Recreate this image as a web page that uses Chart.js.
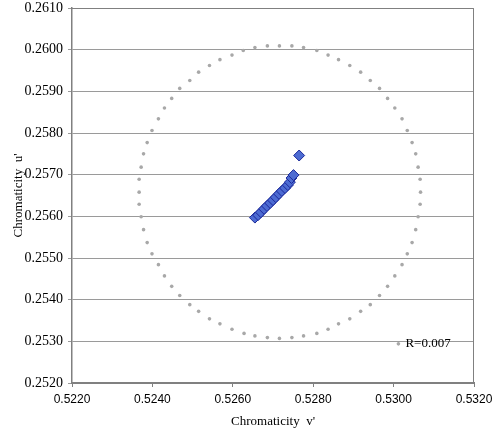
<!DOCTYPE html>
<html>
<head>
<meta charset="utf-8">
<script src="https://cdn.jsdelivr.net/npm/chart.js@4"></script>
<style>
  html, body { margin: 0; padding: 0; background: #fff; }
  #grafico { display: block; }
</style>
</head>
<body>
<canvas id="grafico" width="502" height="436"></canvas>
<script>
// Círculo de referencia (R=0.007), leído punto a punto
var circuloV = [0.52716, 0.52747, 0.52776, 0.52809, 0.52837, 0.52863, 0.52891, 0.52918, 0.52942, 0.52965,
                0.52985, 0.53003, 0.53021, 0.53034, 0.53046, 0.53055, 0.53061, 0.53066, 0.53067, 0.53066,
                0.53061, 0.53055, 0.53046, 0.53034, 0.53021, 0.53003, 0.52985, 0.52965, 0.52942, 0.52918,
                0.52891, 0.52863, 0.52837, 0.52809, 0.52776, 0.52747, 0.52716, 0.52686, 0.52655, 0.52628,
                0.52598, 0.52568, 0.52542, 0.52515, 0.52493, 0.52468, 0.52448, 0.52430, 0.52415, 0.52399,
                0.52387, 0.52378, 0.52372, 0.52367, 0.52367, 0.52367, 0.52372, 0.52378, 0.52387, 0.52399,
                0.52415, 0.52430, 0.52448, 0.52468, 0.52493, 0.52515, 0.52542, 0.52568, 0.52598, 0.52626,
                0.52655, 0.52686];
var circuloU = [0.26009, 0.26009, 0.26005, 0.25998, 0.25987, 0.25976, 0.25962, 0.25946, 0.25926, 0.25907,
                0.25883, 0.25860, 0.25834, 0.25806, 0.25777, 0.25750, 0.25718, 0.25689, 0.25658, 0.25629,
                0.25599, 0.25568, 0.25537, 0.25510, 0.25484, 0.25457, 0.25432, 0.25410, 0.25388, 0.25372,
                0.25354, 0.25342, 0.25329, 0.25319, 0.25313, 0.25309, 0.25307, 0.25309, 0.25313, 0.25319,
                0.25329, 0.25342, 0.25354, 0.25372, 0.25388, 0.25410, 0.25432, 0.25457, 0.25484, 0.25510,
                0.25537, 0.25568, 0.25599, 0.25629, 0.25658, 0.25689, 0.25718, 0.25750, 0.25777, 0.25806,
                0.25834, 0.25860, 0.25883, 0.25907, 0.25926, 0.25946, 0.25962, 0.25976, 0.25987, 0.25998,
                0.26005, 0.26009];

// Mediciones (rombos azules)
var medidasV = [0.52655, 0.52663, 0.52670, 0.52678, 0.52685, 0.52693, 0.52700, 0.52707, 0.52715,
                0.52722, 0.52730, 0.52737, 0.52742, 0.52746, 0.52751, 0.52765];
var medidasU = [0.25597, 0.25603, 0.25610, 0.25618, 0.25625, 0.25632, 0.25639, 0.25646, 0.25654,
                0.25661, 0.25668, 0.25675, 0.25682, 0.25692, 0.25699, 0.25746];

// Punto con la etiqueta del radio
var etiquetaV = [0.53012];
var etiquetaU = [0.25294];
var etiquetaTexto = 'R=0.007';

var ticksX = [0.5220, 0.5240, 0.5260, 0.5280, 0.5300, 0.5320];
var ticksY = [0.2520, 0.2530, 0.2540, 0.2550, 0.2560, 0.2570, 0.2580, 0.2590, 0.2600, 0.2610];

function puntos(xs, ys) {
    return xs.map(function (x, i) { return { x: x, y: ys[i] }; });
}

var marco = {
    id: 'marco',
    beforeDatasetsDraw: function (chart) {
        var a = chart.chartArea, ctx = chart.ctx;
        ctx.save();
        ctx.strokeStyle = '#808080';
        ctx.lineWidth = 1;
        ctx.beginPath();
        ctx.moveTo(a.left, a.top + 0.5);
        ctx.lineTo(a.right - 0.5, a.top + 0.5);
        ctx.lineTo(a.right - 0.5, a.bottom);
        ctx.stroke();
        ctx.restore();
    },
    afterDatasetsDraw: function (chart) {
        var meta = chart.getDatasetMeta(2);
        var ctx = chart.ctx;
        ctx.save();
        ctx.fillStyle = '#000';
        ctx.font = '13px "Liberation Serif"';
        ctx.textBaseline = 'middle';
        meta.data.forEach(function (p) {
            ctx.fillText(etiquetaTexto, p.x + 7, p.y);
        });
        ctx.restore();
    }
};

new Chart(document.getElementById('grafico').getContext('2d'), {
    type: 'scatter',
    data: {
        datasets: [{
            data: puntos(medidasV, medidasU),
            pointStyle: 'rectRot',
            pointRadius: 5.5,
            backgroundColor: '#4d6bd2',
            borderColor: '#1c2a9a',
            borderWidth: 1
        }, {
            data: puntos(circuloV, circuloU),
            pointStyle: 'circle',
            pointRadius: 1.8,
            backgroundColor: '#a8a8a8',
            borderWidth: 0
        }, {
            data: puntos(etiquetaV, etiquetaU),
            pointStyle: 'circle',
            pointRadius: 1.8,
            backgroundColor: '#a8a8a8',
            borderWidth: 0
        }]
    },
    options: {
        responsive: false,
        animation: false,
        layout: { padding: { top: 0, right: 28, left: 0, bottom: 0 } },
        plugins: {
            legend: { display: false },
            tooltip: { enabled: false }
        },
        scales: {
            x: {
                type: 'linear',
                min: 0.5220,
                max: 0.5320,
                afterBuildTicks: function (s) { s.ticks = ticksX.map(function (v) { return { value: v }; }); },
                afterFit: function (s) { s.height = 53; s.paddingLeft = 0; s.paddingRight = 0; },
                ticks: {
                    padding: 5,
                    color: '#000',
                    font: { family: '"Liberation Sans"', size: 12 },
                    maxRotation: 0,
                    callback: function (v) { return Number(v).toFixed(4); }
                },
                grid: { drawOnChartArea: false, drawTicks: true, tickLength: 4, color: '#808080' },
                border: { color: '#808080', width: 2 },
                title: {
                    display: true,
                    text: "Chromaticity  v'",
                    color: '#000',
                    font: { family: '"Liberation Serif"', size: 13 },
                    padding: { top: 0, bottom: 7 }
                }
            },
            y: {
                type: 'linear',
                min: 0.2520,
                max: 0.2610,
                afterBuildTicks: function (s) { s.ticks = ticksY.map(function (v) { return { value: v }; }); },
                afterFit: function (s) { s.width = 72; s.paddingTop = 8; s.paddingBottom = 0; },
                ticks: {
                    padding: 5,
                    color: '#000',
                    font: { family: '"Liberation Serif"', size: 14 },
                    callback: function (v) { return Number(v).toFixed(4); }
                },
                grid: { color: '#9a9a9a', tickLength: 4, lineWidth: 1 },
                border: { color: '#808080', width: 1.5 },
                title: {
                    display: true,
                    text: "Chromaticity  u'",
                    color: '#000',
                    font: { family: '"Liberation Serif"', size: 13 },
                    padding: { top: 11, bottom: 0 }
                }
            }
        }
    },
    plugins: [marco]
});
</script>
</body>
</html>
